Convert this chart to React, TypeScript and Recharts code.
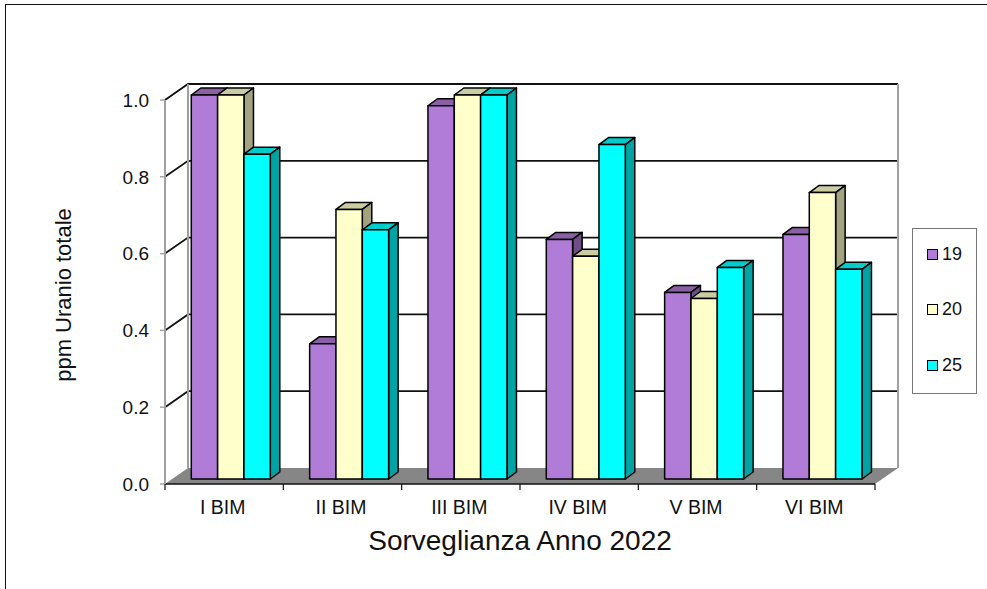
import { BarChart, Bar, XAxis, YAxis, CartesianGrid, Legend } from 'recharts';

const categories = ['I BIM', 'II BIM', 'III BIM', 'IV BIM', 'V BIM', 'VI BIM'];
const series19 = [1.0, 0.352, 0.972, 0.624, 0.486, 0.637];
const series20 = [1.0, 0.702, 1.0, 0.58, 0.47, 0.746];
const series25 = [0.846, 0.649, 1.0, 0.871, 0.551, 0.546];
const yTicks = [0, 0.2, 0.4, 0.6, 0.8, 1.0];

const data = categories.map((name, i) => ({
  name,
  s19: series19[i],
  s20: series20[i],
  s25: series25[i],
}));

const WIDTH = 987;
const HEIGHT = 589;

// front plane of the 3D box
const LEFT = 165;
const RIGHT = 875;
const TOP = 100;
const BOTTOM = 484;
const BAND = (RIGHT - LEFT) / categories.length;

// how far the back wall sits from the front plane
const WALL_DX = 23;
const WALL_DY = -16;

// bars stand a little behind the front plane and have their own depth
const BAR_DX = 6.3;
const BAR_DY = -5;
const DEPTH_X = 9.5;
const DEPTH_Y = -7;

const FONT = '"Liberation Sans", Arial, sans-serif';
const INK = '#111111';
const WALL = '#a0a0a0';

const shades = {
  '#b07cd8': { top: '#8a5fa6', side: '#6f4d87' },
  '#ffffcc': { top: '#cccca3', side: '#a3a382' },
  '#00ffff': { top: '#00cccc', side: '#00a3a3' },
};

const Box3D = ({ x, y, width, height, fill }: any) => {
  const fx = x + BAR_DX;
  const fy = y + BAR_DY;
  const r = fx + width;
  const b = fy + height;
  const { top, side } = shades[fill];
  const edge = { stroke: '#000', strokeWidth: 1.5, strokeLinejoin: 'round' as const };
  return (
    <g>
      <polygon
        points={`${fx},${fy} ${fx + DEPTH_X},${fy + DEPTH_Y} ${r + DEPTH_X},${fy + DEPTH_Y} ${r},${fy}`}
        fill={top}
        {...edge}
      />
      <polygon
        points={`${r},${fy} ${r + DEPTH_X},${fy + DEPTH_Y} ${r + DEPTH_X},${b + DEPTH_Y} ${r},${b}`}
        fill={side}
        {...edge}
      />
      <rect x={fx} y={fy} width={width} height={height} fill={fill} {...edge} />
    </g>
  );
};

// one grid line: runs up the side wall, then along the back wall
const GridLine = ({ y1, index }: any) => {
  if (y1 >= BOTTOM - 1) return <g key={index} />;
  const backY = y1 + WALL_DY;
  return (
    <path
      key={index}
      d={`M${LEFT},${y1} L${LEFT + WALL_DX},${backY} L${RIGHT + WALL_DX},${backY}`}
      fill="none"
      stroke="#111"
      strokeWidth={1.8}
    />
  );
};

const Walls = () => (
  <g>
    <polygon
      points={`${LEFT},${BOTTOM} ${LEFT + WALL_DX},${BOTTOM + WALL_DY} ${RIGHT + WALL_DX},${BOTTOM + WALL_DY} ${RIGHT},${BOTTOM}`}
      fill="#868686"
    />
    <line x1={LEFT + WALL_DX} y1={TOP + WALL_DY} x2={LEFT + WALL_DX} y2={BOTTOM + WALL_DY} stroke={WALL} strokeWidth={2} />
    <line x1={RIGHT + WALL_DX} y1={TOP + WALL_DY} x2={RIGHT + WALL_DX} y2={BOTTOM + WALL_DY} stroke={WALL} strokeWidth={2} />
  </g>
);

// category label, with the axis ticks on the band edges rather than the centre
const CategoryTick = ({ x, y, payload, index }: any) => (
  <g>
    <line x1={x - BAND / 2} y1={BOTTOM} x2={x - BAND / 2} y2={BOTTOM + 6} stroke={INK} strokeWidth={1.2} />
    {index === categories.length - 1 && (
      <line x1={x + BAND / 2} y1={BOTTOM} x2={x + BAND / 2} y2={BOTTOM + 6} stroke={INK} strokeWidth={1.2} />
    )}
    <text x={x - 1.5} y={BOTTOM + 30} textAnchor="middle" fontSize={19.5} fontFamily={FONT} fill={INK}>
      {payload.value}
    </text>
  </g>
);

const LegendBox = ({ payload }: any) => (
  <div
    style={{
      boxSizing: 'border-box',
      width: 65,
      height: 166,
      border: '1.4px solid #777',
      background: '#fff',
      display: 'flex',
      flexDirection: 'column',
      justifyContent: 'space-between',
      padding: '15px 0 18px 14px',
      fontFamily: FONT,
      fontSize: 18,
      color: INK,
    }}
  >
    {(payload ?? []).map((entry: any) => (
      <div key={entry.value} style={{ display: 'flex', alignItems: 'center', gap: 4, height: 20 }}>
        <span
          style={{
            boxSizing: 'border-box',
            width: 11,
            height: 11,
            background: entry.color,
            border: '1.4px solid #000',
          }}
        />
        {entry.value}
      </div>
    ))}
  </div>
);

const YTitle = () => (
  <text
    transform="translate(71,295) rotate(-90)"
    textAnchor="middle"
    fontSize={22}
    fontFamily={FONT}
    fill={INK}
  >
    ppm Uranio totale
  </text>
);

export default function App() {
  return (
    <div style={{ position: 'absolute', left: 0, top: 0, width: WIDTH, height: HEIGHT, background: '#fff', overflow: 'hidden' }}>
      {/* outer chart frame: left and top edges */}
      <div style={{ position: 'absolute', left: 5, top: 4, width: WIDTH, height: HEIGHT, border: '1.4px solid #111' }} />
      <BarChart
        width={WIDTH}
        height={HEIGHT}
        data={data}
        barSize={26.33}
        barGap={0}
        margin={{ top: TOP, right: WIDTH - RIGHT - 65, left: 0, bottom: 0 }}
        style={{ position: 'absolute', left: 0, top: 0 }}
      >
        <Walls />
        <CartesianGrid horizontal={GridLine as any} vertical={false} />
        <XAxis
          dataKey="name"
          height={HEIGHT - BOTTOM}
          axisLine={{ stroke: INK, strokeWidth: 1.4 }}
          tickLine={false}
          tick={<CategoryTick />}
          interval={0}
          label={{
            value: 'Sorveglianza Anno 2022',
            position: 'insideTop',
            offset: 46,
            fontSize: 28,
            fontFamily: FONT,
            fill: INK,
          }}
        />
        <YAxis
          width={LEFT}
          domain={[0, 1]}
          ticks={yTicks}
          tickFormatter={(v: number) => v.toFixed(1)}
          axisLine={{ stroke: WALL, strokeWidth: 2 }}
          tickLine={{ stroke: WALL, strokeWidth: 1.4 }}
          tickSize={5}
          tickMargin={11}
          tick={{ fontSize: 19, fontFamily: FONT, fill: INK }}
          label={<YTitle />}
        />
        <Legend
          layout="vertical"
          align="right"
          verticalAlign="middle"
          width={65}
          wrapperStyle={{ left: 912, top: 228, width: 65 }}
          content={<LegendBox />}
        />
        <Bar dataKey="s19" name="19" fill="#b07cd8" shape={<Box3D />} isAnimationActive={false} />
        <Bar dataKey="s20" name="20" fill="#ffffcc" shape={<Box3D />} isAnimationActive={false} />
        <Bar dataKey="s25" name="25" fill="#00ffff" shape={<Box3D />} isAnimationActive={false} />
      </BarChart>
    </div>
  );
}
